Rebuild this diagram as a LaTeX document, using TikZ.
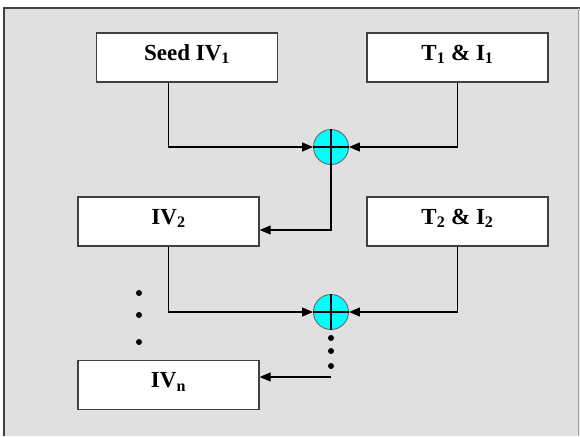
\documentclass[tikz,border=0pt]{standalone}
\usepackage{fontspec}
\setmainfont{Liberation Serif}
\usetikzlibrary{arrows.meta}
\definecolor{panelgray}{RGB}{224,224,224}
\definecolor{rimgray}{RGB}{64,64,64}
\definecolor{xorcyan}{RGB}{0,255,255}
\begin{document}
\begin{tikzpicture}[x=1pt, y=-1pt, line cap=butt, line join=miter]
  \tikzset{stage/.style={draw=rimgray, fill=white, line width=1.3pt, minimum width=181pt, minimum height=49pt, inner sep=0pt, text height=16pt, text depth=11pt, font=\fontsize{23}{27}\selectfont\bfseries},
    xorop/.style={circle, draw=rimgray!80, fill=xorcyan, line width=.9pt, minimum size=35pt, inner sep=0pt},
    flow/.style={draw=black, line width=1.1pt, -{Triangle[length=11pt, width=9pt]}},
    wire/.style={draw=black, line width=1.1pt}}
  \useasboundingbox (0,0) rectangle (580,436);

  % grey panel with its darker top and left rim
  \fill[panelgray] (4,8) rectangle (580,436);
  \draw[rimgray, line width=1.8pt] (4,436) -- (4,8) -- (580,8);
  \draw[black!35, line width=.8pt] (578.5,8) -- (578.5,436);

  % stages
  \node[stage] (seed) at (187,57.5) {Seed IV\textsubscript{1}};
  \node[stage] (ti1) at (457.5,57.5) {T\textsubscript{1} \& I\textsubscript{1}};
  \node[stage] (iv2) at (168.5,221.5) {IV\textsubscript{2}};
  \node[stage] (ti2) at (457.5,221.5) {T\textsubscript{2} \& I\textsubscript{2}};
  \node[stage] (ivn) at (168.5,385) {IV\textsubscript{n}};

  % xor operators
  \foreach \name/\y in {xor1/147, xor2/312} {
    \node[xorop] (\name) at (331,\y) {};
    \draw[wire] (\name.north) -- (\name.south) (\name.west) -- (\name.east);
  }

  % first round
  \draw[flow] (seed.south -| iv2) |- (xor1.west);
  \draw[flow] (ti1.south) |- (xor1.east);
  \draw[flow] (xor1.south) |- ([yshift=-8.5pt]iv2.east);

  % second round
  \draw[flow] (iv2.south) |- (xor2.west);
  \draw[flow] (ti2.south) |- (xor2.east);

  % last round
  \coordinate (tail) at (331,377);
  \draw[flow] (tail) -- (tail -| ivn.east);

  % ellipsis dots
  \foreach \x/\y in {139/293, 139/315, 139/342, 331/338, 331/351, 331/366} {
    \fill (\x,\y) circle (3pt);
  }
\end{tikzpicture}
\end{document}
